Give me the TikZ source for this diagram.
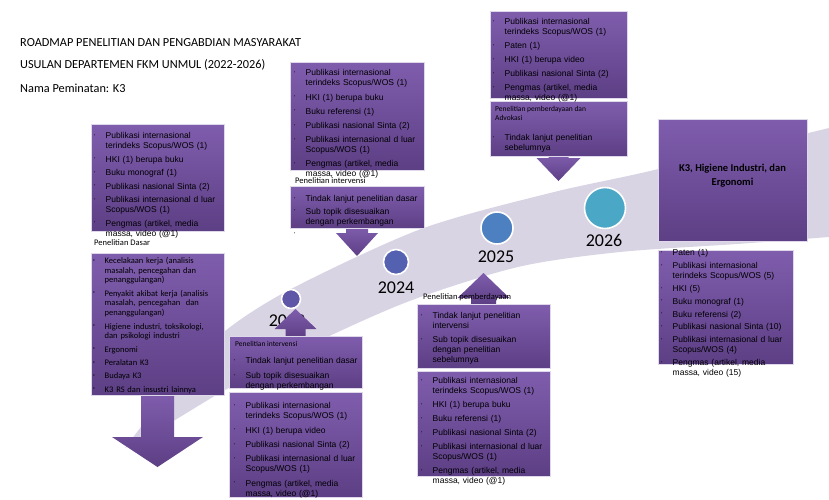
\documentclass[tikz,border=0pt]{standalone}
\usepackage{fontspec}
\setmainfont{Carlito}
\newfontfamily\arialf{Liberation Sans}
\usepackage{tikz}

\definecolor{boxtop}{RGB}{127,93,173}
\definecolor{boxbot}{RGB}{93,63,133}
\definecolor{bandcol}{RGB}{217,212,228}
\definecolor{dot23}{RGB}{96,86,168}
\definecolor{dot24}{RGB}{84,96,176}
\definecolor{dot25}{RGB}{76,128,192}
\definecolor{dot26}{RGB}{74,168,198}

\newlength\bulind \setlength\bulind{11.5pt}
\newlength\itemgap \setlength\itemgap{3.5pt}
% one bullet line of a box
\newcommand{\bi}[1]{\par\hangindent=\bulind\hangafter=1\noindent
  \makebox[\bulind][l]{\raisebox{2.4pt}{\fontsize{3.5}{3.5}\selectfont\textbullet}}#1\par\vspace{\itemgap}}
% box from its top left to its bottom right corner
\newcommand{\pbox}[5]{\node[box,minimum width={(#4-#2)*1pt},minimum height={(#5-#3)*1pt}] (#1) at (#2,#3) {};}
% block arrow: centre x, base y, head y, tip y, half shaft, half head
\newcommand{\blockarr}[6]{\path[arrfill] (#1-#5,#2) -- (#1+#5,#2) -- (#1+#5,#3) -- (#1+#6,#3)
  -- (#1,#4) -- (#1-#6,#3) -- (#1-#5,#3) -- cycle;}

\begin{document}
\begin{tikzpicture}[x=1pt,y=-1pt,
  box/.style={draw=white!75!boxtop,line width=0.7pt,top color=boxtop,bottom color=boxbot,inner sep=0,anchor=north west},
  arrfill/.style={top color=boxtop,bottom color=boxbot},
  btext/.style={font=\arialf\fontsize{8.5}{10}\selectfont,text width=170pt,align=left,inner sep=0,anchor=north west},
  ctext/.style={btext,font=\fontsize{8.5}{9.7}\selectfont},
  igap/.code={\setlength\itemgap{#1}},
  lbl/.style={font=\fontsize{7.5}{9.5}\selectfont,inner sep=0,anchor=west,align=left},
  biglbl/.style={lbl,font=\fontsize{8.5}{10}\selectfont},
  yr/.style={font=\fontsize{18}{18}\selectfont,inner sep=0},
  dot/.style={circle,draw=white,line width=1.6pt,inner sep=0},
  ttl/.style={font=\fontsize{12.3}{14}\selectfont,inner sep=0,anchor=west}]
\useasboundingbox (0,0) rectangle (829,499);

% band
\fill[bandcol] plot[smooth] coordinates {(125,448) (180,377) (225,331) (291,289) (421,229) (550,193) (650,171) (829,128)}
  -- plot[smooth] coordinates {(829,237) (737,244) (620,252) (518,267) (407,302) (300,350) (225,390) (170,423) (125,448)} -- cycle;

% title
\node[ttl] (title1) at (20,43) {ROADMAP PENELITIAN DAN PENGABDIAN MASYARAKAT};
\node[ttl] (title2) at (20,65) {USULAN DEPARTEMEN FKM UNMUL (2022-2026)};
\node[ttl] (title3) at (20,88) {Nama Peminatan: K3};

% years
\node[dot,fill=dot23,minimum size=19pt] (c23) at (291,299) {};
\node[dot,fill=dot24,minimum size=25pt] (c24) at (396,262) {};
\node[dot,fill=dot25,minimum size=32pt] (c25) at (497,228) {};
\node[dot,fill=dot26,minimum size=41pt] (c26) at (605,208) {};
\node[yr] (y23) at (287,321) {2023};
\node[yr] (y24) at (396,288) {2024};
\node[yr] (y25) at (496,257) {2025};
\node[yr] (y26) at (604,240) {2026};

% arrows
\blockarr{157.5}{394}{437}{467}{16.5}{45.5}
\blockarr{357}{227}{233}{256}{11}{21}
\blockarr{295.5}{337}{329}{309}{10}{21}
\blockarr{558.5}{155}{158}{181}{10}{22}
\blockarr{483.5}{304}{298}{273}{12.5}{26}

% boxes
\pbox{b1}{91}{124}{224}{231}
\pbox{b2}{91}{253}{224}{395}
\pbox{b3}{290}{62}{424}{170}
\pbox{b4}{290}{186}{424}{228}
\pbox{b5}{229}{336}{362}{388}
\pbox{b6}{229}{392}{362}{497}
\pbox{b7}{490}{11}{627}{98}
\pbox{b8}{490}{101}{627}{156}
\pbox{b9}{417}{304}{550}{368}
\pbox{b10}{417}{371}{550}{476}
\pbox{b11}{658}{119}{807}{241}
\pbox{b12}{658}{250}{793}{364}

% texts 2022
\node[btext,igap=3.5pt] (t1) at (94,128.5) {\bi{Publikasi internasional\newline terindeks Scopus/WOS (1)}
  \bi{HKI (1) berupa buku}\bi{Buku monograf (1)}\bi{Publikasi nasional Sinta (2)}
  \bi{Publikasi internasional d luar\newline Scopus/WOS (1)}\bi{Pengmas (artikel, media\newline massa, video (@1)}};
\node[biglbl] (l2) at (94,243) {Penelitian Dasar};
\node[ctext,igap=3.7pt] (t2) at (93,253.5) {\bi{Kecelakaan kerja (analisis\newline masalah, pencegahan dan\newline penanggulangan)}
  \bi{Penyakit akibat kerja (analisis\newline masalah, pencegahan\ \ dan\newline penanggulangan)}
  \bi{Higiene industri, toksikologi,\newline dan psikologi industri}\bi{Ergonomi}\bi{Peralatan K3}
  \bi{Budaya K3}\bi{K3 RS dan insustri lainnya}};

% texts 2024
\node[btext,igap=4.2pt] (t3) at (294,65.7) {\bi{Publikasi internasional\newline terindeks Scopus/WOS (1)}
  \bi{HKI (1) berupa buku}\bi{Buku referensi (1)}\bi{Publikasi nasional Sinta (2)}
  \bi{Publikasi internasional d luar\newline Scopus/WOS (1)}\bi{Pengmas (artikel, media\newline massa, video (@1)}};
\node[biglbl] (l4) at (295,181) {Penelitian intervensi};
\node[btext,igap=2.3pt] (t4) at (294,191.7) {\bi{Tindak lanjut penelitian dasar}
  \bi{Sub topik disesuaikan\newline dengan perkembangan}\bi{}};

% texts 2023
\node[lbl] (l5) at (235,344) {Penelitian intervensi};
\node[btext,igap=4.5pt] (t5) at (234,353.7) {\bi{Tindak lanjut penelitian dasar}
  \bi{Sub topik disesuaikan\newline dengan perkembangan}};
\node[btext,igap=4.3pt] (t6) at (234,398.7) {\bi{Publikasi internasional\newline terindeks Scopus/WOS (1)}
  \bi{HKI (1) berupa video}\bi{Publikasi nasional Sinta (2)}
  \bi{Publikasi internasional d luar\newline Scopus/WOS (1)}\bi{Pengmas (artikel, media\newline massa, video (@1)}};

% texts 2025
\node[btext,igap=4pt] (t7) at (493,14.5) {\bi{Publikasi internasional\newline terindeks Scopus/WOS (1)}
  \bi{Paten (1)}\bi{HKI (1) berupa video}\bi{Publikasi nasional Sinta (2)}
  \bi{Pengmas (artikel, media\newline massa, video (@1)}};
\node[lbl,anchor=north west] (l8) at (495,106) {Penelitian pemberdayaan dan\\Advokasi};
\node[btext] (t8) at (493,130.7) {\bi{Tindak lanjut penelitian\newline sebelumnya}};
\node[biglbl] (l9) at (423,297) {Penelitian pemberdayaan};
\node[btext,igap=3.8pt] (t9) at (421,308.7) {\bi{Tindak lanjut penelitian\newline intervensi}
  \bi{Sub topik disesuaikan\newline dengan penelitian\newline sebelumnya}};
\node[btext,igap=4pt] (t10) at (421,373.2) {\bi{Publikasi internasional\newline terindeks Scopus/WOS (1)}
  \bi{HKI (1) berupa buku}\bi{Buku referensi (1)}\bi{Publikasi nasional Sinta (2)}
  \bi{Publikasi internasional d luar\newline Scopus/WOS (1)}\bi{Pengmas (artikel, media\newline massa, video (@1)}};

% texts 2026
\node[font=\bfseries\fontsize{10.5}{14}\selectfont,align=center,inner sep=0] (t11) at (732.5,176)
  {K3, Higiene Industri, dan\\Ergonomi};
\node[btext,igap=2.8pt] (t12) at (661,245.7) {\bi{Paten (1)}\bi{Publikasi internasional\newline terindeks Scopus/WOS (5)}
  \bi{HKI (5)}\bi{Buku monograf (1)}\bi{Buku referensi (2)}\bi{Publikasi nasional Sinta (10)}
  \bi{Publikasi internasional d luar\newline Scopus/WOS (4)}\bi{Pengmas (artikel, media\newline massa, video (15)}};
\end{tikzpicture}
\end{document}
